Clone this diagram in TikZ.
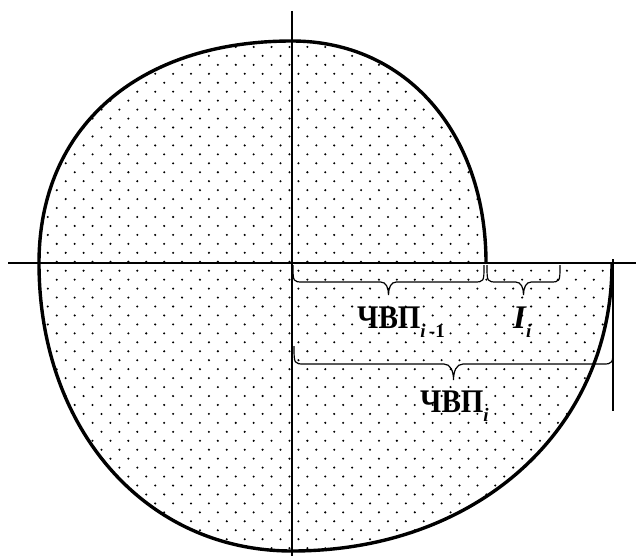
\documentclass[tikz,border=0pt]{standalone}
\usepackage{fontspec}
\setmainfont{Liberation Serif}
\newcommand\lowsub[1]{\raisebox{-9pt}{\fontsize{19}{19}\selectfont #1}}
\newcommand\curlybrace[5]{%
  \pgfmathsetmacro\bxa{#1}\pgfmathsetmacro\bxb{#2}\pgfmathsetmacro\bxm{(#1+#2)/2}%
  \pgfmathsetmacro\bya{#3}\pgfmathsetmacro\byf{#4}\pgfmathsetmacro\byt{#5}%
  \pgfmathsetmacro\bh{0.6*(#4-#3)}\pgfmathsetmacro\bt{0.6*(#5-#4)}%
  \pgfmathsetmacro\bym{\byf+0.45*(\byt-\byf)}%
  \draw[bracestyle] (\bxa,\bya) .. controls (\bxa,\byf) and (\bxa,\byf) .. (\bxa+\bh,\byf)
    -- (\bxm-\bt,\byf) .. controls (\bxm-0.3*\bt,\byf) and (\bxm,\bym) .. (\bxm,\byt)
    .. controls (\bxm,\bym) and (\bxm+0.3*\bt,\byf) .. (\bxm+\bt,\byf)
    -- (\bxb-\bh,\byf) .. controls (\bxb,\byf) and (\bxb,\byf) .. (\bxb,\bya);}
\tikzset{
  curve/.style={line width=3.4pt, line join=round},
  axisline/.style={line width=1.3pt},
  bracestyle/.style={line width=1.2pt},
  endline/.style={line width=2.2pt},
  lbl/.style={inner sep=0pt, anchor=base west, font=\fontsize{33}{33}\selectfont\bfseries},
  dotmark/.style={fill=black}
}
\begin{document}
\begin{tikzpicture}[x=1pt,y=-1pt]
\useasboundingbox (0,0) rectangle (636,556);
\fill[white] (0,0) rectangle (636,556);
\def\outline{(486,263) .. controls (486,132.7) and (405.9,41) .. (292,41)
  .. controls (137.7,41) and (39,127.6) .. (39,263)
  .. controls (39,429.5) and (145.8,551) .. (292,551)
  .. controls (477,551) and (612,429.5) .. (612,263)}
\begin{scope}
  \clip \outline -- cycle;
  \foreach \j in {0,...,58}{
    \foreach \i in {0,...,34}{
      \fill[dotmark] ({\i*17.9+12+mod(\j,2)*8.95},{38+\j*8.95}) circle[radius=1.15];
    }
  }
\end{scope}
\draw[curve] \outline;
\draw[axisline] (8,263) -- (636,263);
\draw[axisline] (292,11) -- (292,556);
\draw[endline] (613,259) -- (613,411);
\curlybrace{293}{484}{265}{282}{295}
\curlybrace{487}{560}{265}{282}{295}
\curlybrace{294}{613}{346}{364}{380}
\node[lbl] (chvpa) at (357,328) {\scalebox{0.88}[1]{ЧВП}\lowsub{\itshape i\upshape\,-1}};
\node[lbl] (Ii) at (513,328) {\itshape I\lowsub{i}};
\node[lbl] (chvpb) at (420,412) {\scalebox{0.88}[1]{ЧВП}\lowsub{\itshape i}};
\end{tikzpicture}
\end{document}
